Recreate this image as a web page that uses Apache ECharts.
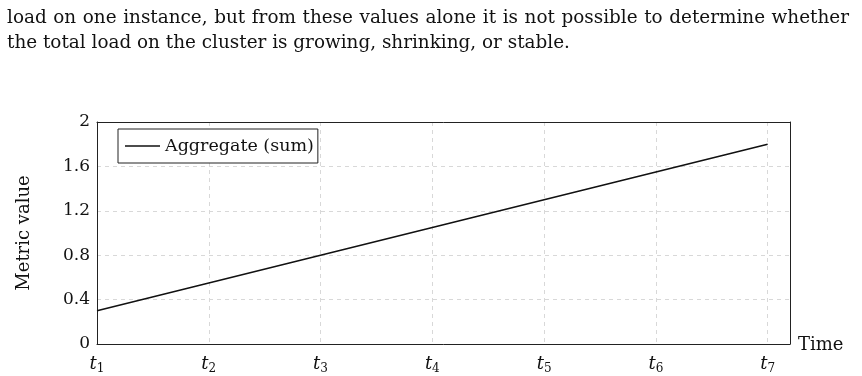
<!DOCTYPE html>
<html>
<head>
<meta charset="utf-8">
<script src="https://cdn.jsdelivr.net/npm/echarts@6/dist/echarts.min.js"></script>
<style>
  body { margin: 0; background: #fff; }
  .para { position: absolute; left: 7px; width: 842px; font-family: "DejaVu Serif", serif; font-size: 18.4px; line-height: 25px; color: #111; white-space: nowrap; }
  #l1 { top: 4px; text-align: justify; text-align-last: justify; white-space: normal; }
  #l2 { top: 29px; }
  #main { position: absolute; left: 0; top: 0; width: 862px; height: 376px; }
</style>
</head>
<body>
<div id="main"></div>
<div class="para" id="l1">load on one instance, but from these values alone it is not possible to determine whether</div>
<div class="para" id="l2">the total load on the cluster is growing, shrinking, or stable.</div>
<script>
// time steps t1..t7 and the summed metric
var steps = [1, 2, 3, 4, 5, 6, 7];
var aggregate = [0.3, 0.55, 0.8, 1.05, 1.3, 1.55, 1.8];
var yTicks = [0, 0.4, 0.8, 1.2, 1.6, 2];

var serif = 'DejaVu Serif';
var chart = echarts.init(document.getElementById('main'));

var gridDash = { show: true, lineStyle: { color: '#d8d8d8', type: [4, 4], width: 1 } };
var frame = { show: true, onZero: false, lineStyle: { color: '#222', width: 1 } };

var option = {
  backgroundColor: '#fff',
  animation: false,
  grid: { left: 97, right: 72, top: 122, bottom: 32 },
  legend: {
    left: 118, top: 129, orient: 'vertical', z: 10,
    backgroundColor: '#fff',
    borderColor: '#222', borderWidth: 1, borderRadius: 0,
    padding: [7, 4, 7, 7], itemWidth: 35, itemHeight: 1.6, itemGap: 0,
    icon: 'rect',
    textStyle: { fontFamily: serif, fontSize: 17.5, color: '#111', lineHeight: 20 },
    data: ['Aggregate (sum)']
  },
  xAxis: [{
    type: 'value', min: 1, max: 7.2, interval: 1,
    name: 'Time', nameLocation: 'end', nameGap: 8,
    nameTextStyle: { fontFamily: serif, fontSize: 18, color: '#111', verticalAlign: 'top', padding: [-8, 0, 0, 0] },
    axisLine: frame,
    axisTick: { show: false },
    splitLine: gridDash,
    axisLabel: {
      margin: 10, showMaxLabel: false,
      formatter: function (v) {
        if (steps.indexOf(v) < 0) return '';
        return '{t|t}{s|' + v + '}';
      },
      rich: {
        t: { fontFamily: serif, fontStyle: 'italic', fontSize: 18, color: '#111', lineHeight: 20 },
        s: { fontFamily: serif, fontSize: 12, color: '#111', lineHeight: 20, padding: [9, 0, 0, 0] }
      }
    }
  }, {
    type: 'value', position: 'top', min: 1, max: 7.2,
    axisLine: frame, axisTick: { show: false }, axisLabel: { show: false }, splitLine: { show: false }
  }],
  yAxis: [{
    type: 'value', min: 0, max: 2, interval: 0.4,
    name: 'Metric value', nameLocation: 'middle', nameGap: 64, nameRotate: 90,
    nameTextStyle: { fontFamily: serif, fontSize: 18, color: '#111' },
    axisLine: frame,
    axisTick: { show: false },
    splitLine: gridDash,
    axisLabel: {
      margin: 7, fontFamily: serif, fontSize: 17, color: '#111',
      formatter: function (v) { return yTicks.indexOf(+v.toFixed(1)) >= 0 ? String(+v.toFixed(1)) : ''; }
    }
  }, {
    type: 'value', position: 'right', min: 0, max: 2,
    axisLine: frame, axisTick: { show: false }, axisLabel: { show: false }, splitLine: { show: false }
  }],
  series: [{
    name: 'Aggregate (sum)', type: 'line', symbol: 'none',
    lineStyle: { color: '#111', width: 1.6 }, itemStyle: { color: '#111' },
    data: steps.map(function (s, i) { return [s, aggregate[i]]; })
  }]
};
chart.setOption(option);
</script>
</body>
</html>
